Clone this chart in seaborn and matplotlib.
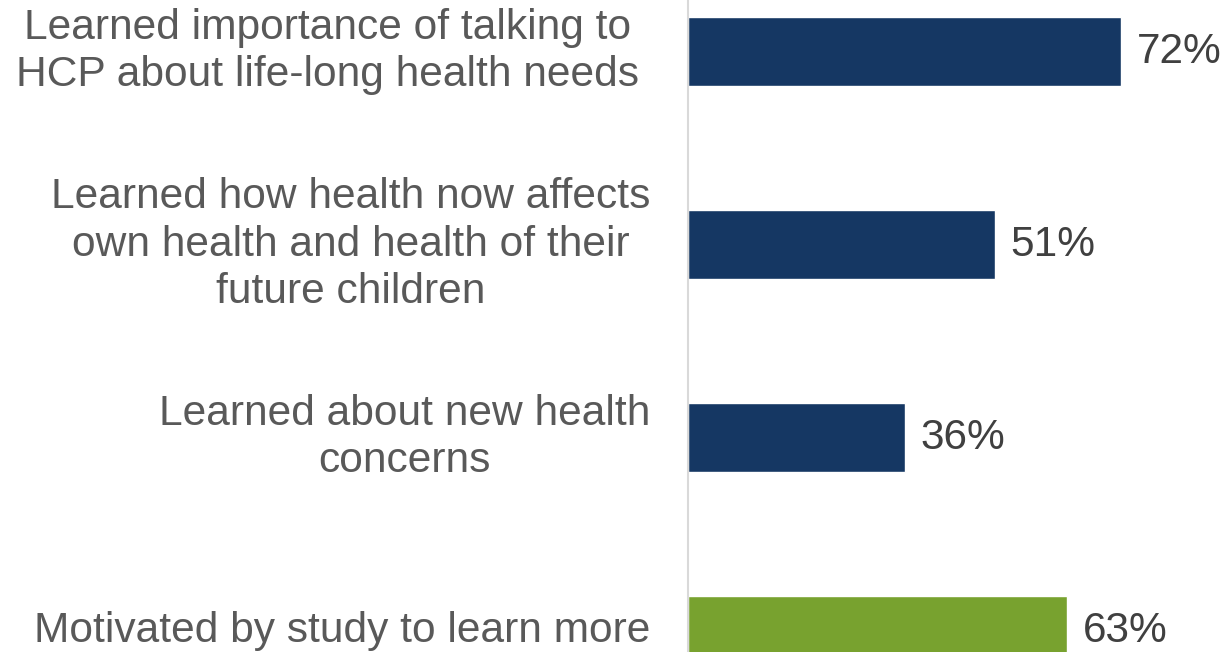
import matplotlib
matplotlib.use("Agg")
import matplotlib.pyplot as plt
import seaborn as sns
import pandas as pd

# Survey outcomes (percent of respondents)
categories = [
    "Learned importance of talking to \nHCP about life-long health needs ",
    "Learned how health now affects\nown health and health of their\nfuture children",
    "Learned about new health\nconcerns",
    "Motivated by study to learn more",
]
values = [72, 51, 36, 63]
bar_colors = ["#153763", "#153763", "#153763", "#78A22F"]

df = pd.DataFrame({"item": categories, "pct": values})

sns.set_theme(style="white")
plt.rcParams["font.family"] = ["Liberation Sans", "DejaVu Sans"]

fig = plt.figure(figsize=(12.28, 6.52), dpi=100)
ax = fig.add_axes([0.5603, 0.0, 0.4397, 1.0])

sns.barplot(
    data=df, y="item", x="pct", hue="item", order=categories,
    palette=dict(zip(categories, bar_colors)), orient="h",
    width=0.357, legend=False, ax=ax, saturation=1,
)

ax.set_xlim(0, 89.7)
ax.set_ylim(3.111, -0.267)
ax.set_xlabel("")
ax.set_ylabel("")
ax.set_xticks([])

for s in ["top", "right", "bottom"]:
    ax.spines[s].set_visible(False)
ax.spines["left"].set_color("#D9D9D9")
ax.spines["left"].set_linewidth(1.5)

ax.tick_params(axis="y", length=0, pad=27)
for lbl in ax.get_yticklabels():
    lbl.set_fontsize(30.6)
    lbl.set_color("#595959")
    lbl.set_multialignment("center")
    lbl.set_linespacing(1.25)
    lbl.set_verticalalignment("center")

for container in ax.containers:
    ax.bar_label(container, labels=[f"{v:.0f}%" for v in container.datavalues],
                 padding=11, fontsize=30.5, color="#404040")

fig.savefig("out.png", dpi=100)
